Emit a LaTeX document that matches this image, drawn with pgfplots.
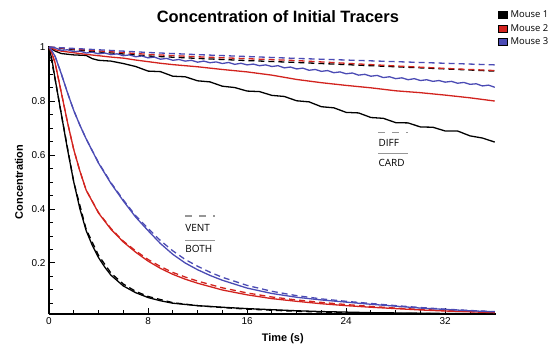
\documentclass[border=0pt]{standalone}
\usepackage{fontspec}
\setmainfont{Liberation Sans}
\newfontfamily\myriad{Open Sans}
\usepackage{pgfplots}
\pgfplotsset{compat=1.18}
\definecolor{mred}{RGB}{210,35,30}
\definecolor{mblue}{RGB}{75,75,180}
\definecolor{annot}{RGB}{150,150,150}
\begin{document}
\begin{tikzpicture}
\path[use as bounding box] (-49bp,-32bp) rectangle (500bp,314bp);
\begin{axis}[
  at={(0,0)}, anchor=south west,
  scale only axis, width=447bp, height=268bp,
  xmin=0, xmax=36.1, ymin=0.011, ymax=1.004,
  axis x line*=bottom, axis y line*=left,
  axis line style={-, line width=1.3bp},
  xtick={0,8,16,24,32},
  ytick={0.2,0.4,0.6,0.8,1},
  minor xtick={2,4,6,10,12,14,18,20,22,26,28,30,34},
  minor ytick={0.05,0.1,0.15,0.25,0.3,0.35,0.45,0.5,0.55,0.65,0.7,0.75,0.85,0.9,0.95},
  tick align=inside,
  major tick length=6bp, minor tick length=4bp,
  every tick/.style={black, line width=1bp},
  /pgf/number format/assume math mode=true,
  ticklabel style={font=\fontsize{10}{12}\selectfont},
  title={Concentration of Initial Tracers},
  title style={at={(rel axis cs:0.512,1)}, anchor=center, yshift=23bp, font=\bfseries\fontsize{16.5}{18}\selectfont},
  xlabel={Time (s)},
  xlabel style={at={(rel axis cs:0.523,0)}, anchor=center, yshift=-25bp, font=\bfseries\fontsize{11}{13}\selectfont},
  ylabel={Concentration},
  every axis y label/.style={at={(rel axis cs:-0.0671,0.493)}, anchor=center, rotate=90, font=\bfseries\fontsize{11}{13}\selectfont},
  legend image code/.code={\fill[#1] (0bp,-3.5bp) rectangle (9bp,3.5bp);},
  legend style={at={(rel axis cs:1.0045,1.135)}, anchor=north west, draw=none, fill=none,
    font=\myriad\fontsize{9.5}{11}\selectfont, row sep=3bp, inner sep=0pt, nodes={inner sep=1bp},
    /tikz/every odd column/.append style={column sep=2bp}},
  legend cell align=left,
]
\addlegendimage{fill=black}
\addlegendimage{fill=mred}
\addlegendimage{fill=mblue}
\legend{Mouse 1,Mouse 2,Mouse 3}

% DIFF (dashed, top)
\addplot[black, line width=1.3bp, dash pattern=on 6bp off 4bp] coordinates {
(0,1) (2,0.990) (4,0.982) (8,0.967) (12,0.958) (16,0.950) (20,0.943) (24,0.935) (28,0.927) (32,0.919) (36,0.911)};
\addplot[mred, line width=1.3bp, dash pattern=on 6bp off 4bp] coordinates {
(0,1) (2,0.993) (4,0.986) (8,0.973) (12,0.964) (16,0.957) (20,0.950) (24,0.940) (28,0.930) (32,0.921) (36,0.913)};
\addplot[mblue, line width=1.3bp, dash pattern=on 6bp off 4bp] coordinates {
(0,1) (2,0.995) (4,0.990) (8,0.980) (12,0.972) (16,0.965) (20,0.958) (24,0.952) (28,0.946) (32,0.940) (36,0.934)};

% CARD (solid, top)
\addplot[black, line width=1.3bp] coordinates {
(0,1.000) (0.5,0.985) (1,0.976) (2,0.971) (3,0.969) (3.5,0.957) (4,0.951) (5,0.948) (6,0.939) (7,0.928) (8,0.911) (9,0.909) (10,0.892) (11,0.890) (12,0.875) (13,0.871) (14,0.855) (15,0.850) (16,0.837) (17,0.835) (18,0.821) (19,0.817) (20,0.801) (21,0.797) (22,0.779) (23,0.775) (24,0.758) (25,0.756) (26,0.739) (27,0.736) (28,0.720) (29,0.719) (30,0.704) (31,0.703) (32,0.689) (33,0.689) (34,0.671) (35,0.663) (36,0.648)};
\addplot[mred, line width=1.3bp] coordinates {
(0,1.0) (0.5,0.99) (1,0.985) (2,0.979) (3,0.973) (4,0.968) (5,0.963) (6,0.959) (7,0.952) (8,0.946) (9,0.940) (10,0.935) (12,0.927) (14,0.917) (16,0.908) (18,0.896) (20,0.880) (22,0.868) (24,0.858) (26,0.849) (28,0.838) (30,0.831) (32,0.822) (34,0.812) (36,0.800)};
\addplot[mblue, line width=1.3bp] coordinates {
(0,1.000) (0.5,0.997) (1,0.988) (1.5,0.990) (2,0.983) (2.5,0.985) (3,0.978) (3.5,0.981) (4,0.975) (4.5,0.978) (5,0.972) (5.5,0.975) (6,0.968) (6.5,0.971) (7,0.964) (7.5,0.967) (8,0.960) (8.5,0.963) (9,0.955) (9.5,0.958) (10,0.951) (10.5,0.954) (11,0.948) (11.5,0.951) (12,0.944) (12.5,0.948) (13,0.942) (13.5,0.945) (14,0.939) (14.5,0.943) (15,0.936) (15.5,0.940) (16,0.934) (16.5,0.937) (17,0.931) (17.5,0.934) (18,0.928) (18.5,0.931) (19,0.923) (19.5,0.926) (20,0.919) (20.5,0.922) (21,0.914) (21.5,0.917) (22,0.910) (22.5,0.913) (23,0.905) (23.5,0.908) (24,0.901) (24.5,0.904) (25,0.896) (25.5,0.899) (26,0.892) (26.5,0.895) (27,0.887) (27.5,0.890) (28,0.883) (28.5,0.886) (29,0.879) (29.5,0.883) (30,0.876) (30.5,0.879) (31,0.873) (31.5,0.876) (32,0.870) (32.5,0.873) (33,0.866) (33.5,0.869) (34,0.862) (34.5,0.864) (35,0.856) (35.5,0.859) (36,0.851)};

% VENT (dashed, bottom)
\addplot[black, line width=1.3bp, dash pattern=on 6bp off 4bp] coordinates {
(0,1) (0.5,0.88) (1,0.75) (2,0.5) (3,0.325) (4,0.228) (5,0.163) (6,0.122) (7,0.095) (8,0.076) (10,0.053) (12,0.042) (14,0.035) (16,0.029) (20,0.021) (24,0.016) (28,0.013) (32,0.012) (36,0.011)};
\addplot[mred, line width=1.3bp, dash pattern=on 6bp off 4bp] coordinates {
(0,1.0) (0.25,0.975) (0.5,0.94) (1,0.83) (1.5,0.72) (2,0.62) (2.5,0.54) (3,0.47) (4,0.387) (5,0.328) (6,0.281) (7,0.245) (8,0.213) (9,0.187) (10,0.165) (11,0.148) (12,0.133) (14,0.108) (16,0.089) (18,0.074) (20,0.063) (22,0.054) (24,0.046) (26,0.039) (28,0.033) (30,0.028) (32,0.024) (34,0.020) (36,0.018)};
\addplot[mblue, line width=1.3bp, dash pattern=on 6bp off 4bp] coordinates {
(0,1.0) (0.25,0.985) (0.5,0.965) (1,0.9) (1.5,0.83) (2,0.765) (2.5,0.71) (3,0.66) (4,0.572) (5,0.498) (6,0.434) (7,0.375) (8,0.328) (9,0.283) (10,0.245) (11,0.213) (12,0.188) (13,0.166) (14,0.147) (16,0.117) (18,0.095) (20,0.079) (22,0.067) (24,0.058) (26,0.050) (28,0.042) (30,0.035) (32,0.029) (34,0.024) (36,0.020)};

% BOTH (solid, bottom)
\addplot[black, line width=1.3bp] coordinates {
(0,1.0) (0.25,0.95) (0.5,0.88) (1,0.75) (1.5,0.62) (2,0.50) (2.5,0.40) (3,0.32) (3.5,0.265) (4,0.22) (4.5,0.185) (5,0.155) (6,0.115) (7,0.09) (8,0.072) (9,0.06) (10,0.051) (12,0.042) (14,0.036) (16,0.031) (18,0.027) (20,0.023) (22,0.02) (24,0.018) (26,0.016) (28,0.015) (30,0.014) (32,0.013) (34,0.012) (36,0.012)};
\addplot[mred, line width=1.3bp] coordinates {
(0,1.0) (0.25,0.975) (0.5,0.94) (1,0.83) (1.5,0.72) (2,0.62) (2.5,0.54) (3,0.47) (4,0.385) (5,0.325) (6,0.278) (7,0.24) (8,0.207) (9,0.18) (10,0.158) (11,0.14) (12,0.125) (14,0.1) (16,0.082) (18,0.068) (20,0.058) (22,0.049) (24,0.042) (26,0.036) (28,0.031) (30,0.026) (32,0.022) (34,0.019) (36,0.016)};
\addplot[mblue, line width=1.3bp] coordinates {
(0,1.0) (0.25,0.985) (0.5,0.965) (1,0.9) (1.5,0.83) (2,0.765) (2.5,0.71) (3,0.66) (4,0.57) (5,0.495) (6,0.43) (7,0.37) (8,0.32) (9,0.272) (10,0.232) (11,0.2) (12,0.175) (13,0.154) (14,0.136) (16,0.107) (18,0.087) (20,0.073) (22,0.063) (24,0.055) (26,0.047) (28,0.04) (30,0.033) (32,0.028) (34,0.023) (36,0.019)};

% line-style key
\draw[annot, line width=1.2bp, dash pattern=on 7bp off 7bp] (axis cs:26.6,0.683) -- (axis cs:29.0,0.683);
\node[anchor=west, inner sep=0pt, font=\myriad\fontsize{10}{12}\selectfont] at (axis cs:26.6,0.644) {DIFF};
\draw[annot, line width=1.2bp] (axis cs:26.6,0.607) -- (axis cs:29.0,0.607);
\node[anchor=west, inner sep=0pt, font=\myriad\fontsize{10}{12}\selectfont] at (axis cs:26.6,0.570) {CARD};
\draw[annot, line width=1.2bp, dash pattern=on 7bp off 7bp] (axis cs:11.0,0.374) -- (axis cs:13.4,0.374);
\node[anchor=west, inner sep=0pt, font=\myriad\fontsize{10}{12}\selectfont] at (axis cs:11.0,0.331) {VENT};
\draw[annot, line width=1.2bp] (axis cs:11.0,0.283) -- (axis cs:13.4,0.283);
\node[anchor=west, inner sep=0pt, font=\myriad\fontsize{10}{12}\selectfont] at (axis cs:11.0,0.252) {BOTH};
\end{axis}
\end{tikzpicture}
\end{document}
